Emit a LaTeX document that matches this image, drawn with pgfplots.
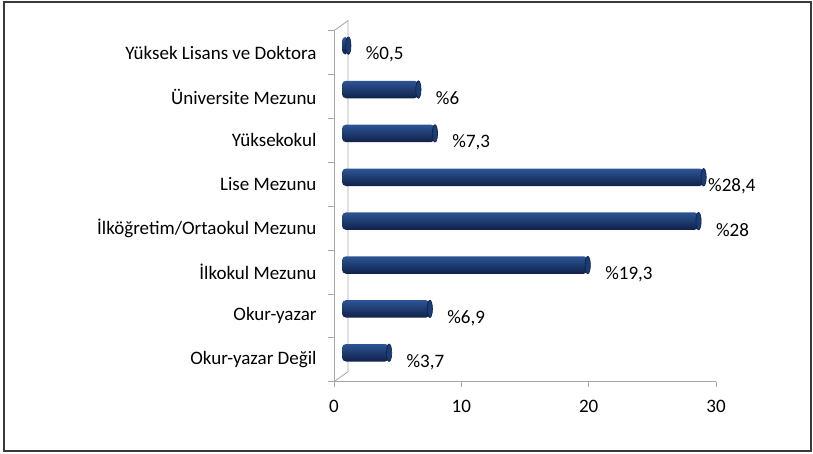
\documentclass[border=0pt]{standalone}
\usepackage{pgfplots}
\pgfplotsset{compat=1.18}
\usepackage{fontspec}
\setmainfont{Carlito}

\definecolor{axisgray}{HTML}{A6A6A6}
\definecolor{framec}{HTML}{3A3A3A}
\definecolor{bartop}{HTML}{2D5594}
\definecolor{barmid}{HTML}{1F4685}
\definecolor{barbot}{HTML}{10214A}
\definecolor{capfill}{HTML}{1A3C77}
\definecolor{capdraw}{HTML}{0E1F40}

\newcommand{\lblfont}{\fontsize{19pt}{22pt}\selectfont}

\pgfplotsset{
  mybar/.style={xbar, bar width=17.5pt, bar shift=0pt, draw=none,
    top color=bartop, middle color=barmid, bottom color=barbot,
    rounded corners=4pt},
}

\begin{document}
\begin{tikzpicture}
\useasboundingbox (0pt,0pt) rectangle (813pt,454pt);
\draw[framec, line width=1.6pt] (4pt,3pt) rectangle (811pt,452pt);

% front plane: axes, ticks, labels
\begin{axis}[
  name=front,
  at={(334pt,72.3pt)}, anchor=south west,
  scale only axis, width=382pt, height=351pt,
  xmin=0, xmax=30, ymin=-0.5, ymax=7.5,
  axis x line*=bottom, axis y line*=left,
  axis line style={axisgray, line width=0.8pt},
  tick align=outside,
  xtick={0,10,20,30},
  major tick length=5pt,
  minor tick length=6pt,
  ytick={0,...,7},
  yticklabels={Okur-yazar Değil, Okur-yazar, İlkokul Mezunu, İlköğretim/Ortaokul Mezunu, Lise Mezunu, Yüksekokul, Üniversite Mezunu, Yüksek Lisans ve Doktora},
  minor ytick={-0.5,0.5,...,7.5},
  major y tick style={draw=none},
  minor y tick style={axisgray, line width=0.8pt},
  major x tick style={axisgray, line width=0.8pt},
  tick label style={font=\lblfont, black},
  yticklabel style={xshift=-9pt},
  xticklabel style={yshift=-10pt},
  /pgf/number format/assume math mode=true,
  /pgf/number format/use comma,
  clip=false,
]
\addplot[draw=none, mark=none, point meta=x,
  nodes near coords={\%\pgfmathprintnumber{\pgfplotspointmeta}},
  every node near coord/.style={anchor=west, xshift=22pt, yshift=-2pt, font=\lblfont, black}]
  coordinates {(3.7,0) (6.9,1) (19.3,2) (28,3) (7.3,5) (6,6) (0.5,7)};
\addplot[draw=none, mark=none, point meta=x,
  nodes near coords={\%\pgfmathprintnumber{\pgfplotspointmeta}},
  every node near coord/.style={anchor=west, xshift=9pt, yshift=-2pt, font=\lblfont, black}]
  coordinates {(28.4,4)};
\end{axis}

% back wall
\draw[axisgray, line width=0.8pt] (front.south west) -- ++(14pt,10pt) -- ++(0pt,351pt) -- (front.north west);

% bars (3D depth offset)
\begin{axis}[
  at={(342pt,79.3pt)}, anchor=south west,
  scale only axis, width=382pt, height=351pt,
  xmin=0, xmax=30, ymin=-0.5, ymax=7.5,
  hide axis, clip=false,
]
\addplot[mybar] coordinates {(3.7,0)};
\addplot[mybar] coordinates {(6.9,1)};
\addplot[mybar] coordinates {(19.3,2)};
\addplot[mybar] coordinates {(28,3)};
\addplot[mybar] coordinates {(28.4,4)};
\addplot[mybar] coordinates {(7.3,5)};
\addplot[mybar] coordinates {(6,6)};
\addplot[mybar] coordinates {(0.5,7)};
\addplot[only marks, mark=*, mark size=8.75pt,
  mark options={xscale=0.3, fill=capfill, draw=capdraw, line width=0.6pt}]
  coordinates {(3.7,0) (6.9,1) (19.3,2) (28,3) (28.4,4) (7.3,5) (6,6) (0.5,7)};
\end{axis}
\end{tikzpicture}
\end{document}
